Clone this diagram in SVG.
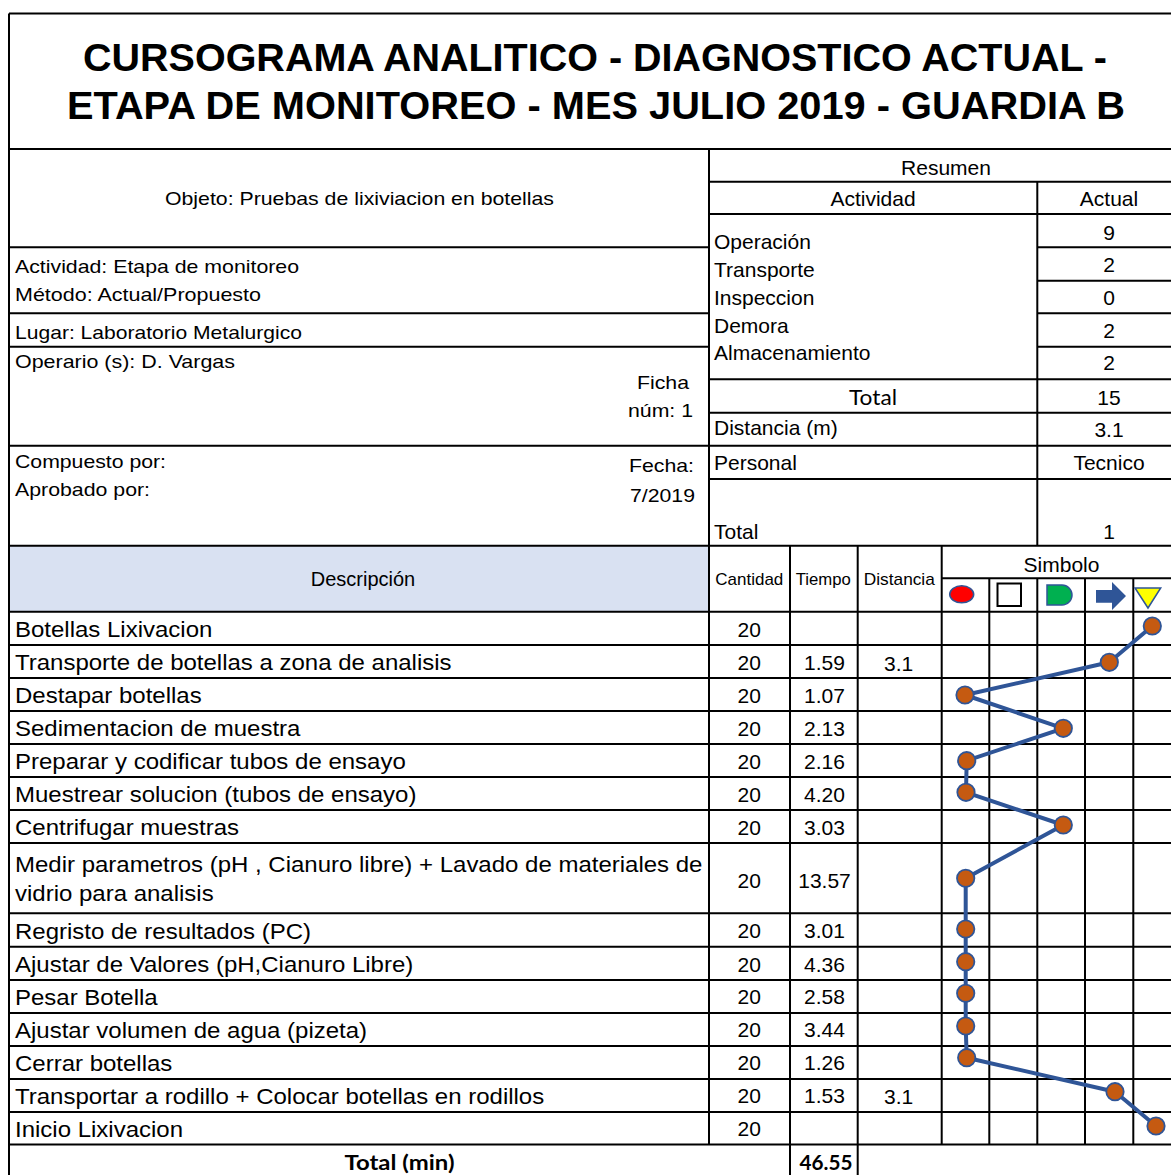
<svg xmlns="http://www.w3.org/2000/svg" width="1171" height="1175" viewBox="0 0 1171 1175">
<style>
.ln{stroke:#000;stroke-width:2;fill:none}
.t{font-family:"Liberation Sans",Arial,sans-serif;fill:#000}
.ti{font-family:"Liberation Sans",Arial,sans-serif;font-weight:bold;font-size:39.5px;text-anchor:middle;fill:#000}
.inf{font-size:18.5px}
.sm{font-size:21px}
.hd{font-size:17px}
.ds{font-size:22px}
.nm{font-size:21px;text-anchor:middle}
.c{text-anchor:middle}
.r{text-anchor:end}
.cal{font-family:Lato,"Liberation Sans",sans-serif;font-weight:bold;font-size:21px;text-anchor:middle;fill:#000}
.dot{fill:#C55A11;stroke:#2F5597;stroke-width:1.8}
.conn{fill:none;stroke:#2F5597;stroke-width:4;stroke-linejoin:round}
.sym{stroke:#2F5597;stroke-width:1.5}
</style>
<rect width="1171" height="1175" fill="#fff"/>
<rect x="9" y="545.7" width="700" height="66" fill="#D9E1F2"/>
<g id="grid">
<path class="ln" d="M9,13.5H1171M9,13.5V1175M9,149H1171M709,149V1144.5
M9,247.3H709M9,313.3H709M9,346.7H709M9,445.7H709M9,545.7H1171
M709,181.7H1171M709,214H1171M1037.3,247.3H1171M1037.3,280.7H1171M1037.3,313.3H1171M1037.3,346.7H1171
M709,379.3H1171M709,412.7H1171M709,445.7H1171M709,479H1171M1037.3,181.7V545.7
M790,545.7V1175M857.7,545.7V1175M941.7,545.7V1144.5M941.7,578.3H1171
M989.3,578.3V1144.5M1037.3,578.3V1144.5M1085,578.3V1144.5M1133.3,578.3V1144.5
M9,611.7H1171M9,645H1171M9,678H1171M9,711H1171M9,744H1171M9,777H1171M9,810H1171M9,843H1171
M9,913.3H1171M9,946.7H1171M9,980H1171M9,1013H1171M9,1046H1171M9,1079H1171M9,1112H1171M9,1144.5H1171"/>
</g>
<g id="title">
<text class="ti" x="595" y="70.5" textLength="1024" lengthAdjust="spacingAndGlyphs">CURSOGRAMA ANALITICO - DIAGNOSTICO ACTUAL -</text>
<text class="ti" x="596" y="119" textLength="1058" lengthAdjust="spacingAndGlyphs">ETAPA DE MONITOREO - MES JULIO 2019 - GUARDIA B</text>
</g>
<g id="info" class="t inf">
<text class="c" x="359.5" y="205" textLength="389" lengthAdjust="spacingAndGlyphs">Objeto: Pruebas de lixiviacion en botellas</text>
<text x="15" y="273" textLength="284" lengthAdjust="spacingAndGlyphs">Actividad: Etapa de monitoreo</text>
<text x="15" y="301" textLength="246" lengthAdjust="spacingAndGlyphs">Método: Actual/Propuesto</text>
<text x="15" y="338.5" textLength="287" lengthAdjust="spacingAndGlyphs">Lugar: Laboratorio Metalurgico</text>
<text x="15" y="368" textLength="220" lengthAdjust="spacingAndGlyphs">Operario (s): D. Vargas</text>
<text class="r" x="689" y="389" textLength="52" lengthAdjust="spacingAndGlyphs">Ficha</text>
<text class="r" x="693" y="417" textLength="65" lengthAdjust="spacingAndGlyphs">núm: 1</text>
<text x="15" y="468" textLength="151" lengthAdjust="spacingAndGlyphs">Compuesto por:</text>
<text x="15" y="496" textLength="135" lengthAdjust="spacingAndGlyphs">Aprobado por:</text>
<text class="r" x="694" y="472" textLength="65" lengthAdjust="spacingAndGlyphs">Fecha:</text>
<text class="r" x="695" y="501.5" textLength="65" lengthAdjust="spacingAndGlyphs">7/2019</text>
</g>
<g id="resumen" class="t sm">
<text class="c" x="946" y="175">Resumen</text>
<text class="c" x="873" y="206">Actividad</text>
<text class="c" x="1109" y="206">Actual</text>
<text x="714" y="248.5">Operación</text>
<text x="714" y="277">Transporte</text>
<text x="714" y="305">Inspeccion</text>
<text x="714" y="333">Demora</text>
<text x="714" y="360">Almacenamiento</text>
<text class="c" x="1109" y="239.5">9</text>
<text class="c" x="1109" y="272">2</text>
<text class="c" x="1109" y="305">0</text>
<text class="c" x="1109" y="337.5">2</text>
<text class="c" x="1109" y="370">2</text>
<text class="cal" x="873" y="404.5" textLength="48" lengthAdjust="spacingAndGlyphs" style="font-weight:normal">Total</text>
<text class="c" x="1109" y="404.5">15</text>
<text x="714" y="435">Distancia (m)</text>
<text class="c" x="1109" y="437">3.1</text>
<text x="714" y="470">Personal</text>
<text class="c" x="1109" y="470">Tecnico</text>
<text x="714" y="538.5">Total</text>
<text class="c" x="1109" y="538.5">1</text>
</g>
<g id="header" class="t">
<text class="c" x="363" y="586" style="font-size:20px">Descripción</text>
<text class="c hd" x="749.3" y="585" textLength="68" lengthAdjust="spacingAndGlyphs">Cantidad</text>
<text class="c hd" x="823.3" y="585" textLength="55" lengthAdjust="spacingAndGlyphs">Tiempo</text>
<text class="c hd" x="899.3" y="585" textLength="71" lengthAdjust="spacingAndGlyphs">Distancia</text>
<text class="c sm" x="1061.5" y="571.7">Simbolo</text>
</g>
<g id="symbol-legend">
<ellipse class="sym" cx="961.7" cy="594.3" rx="12" ry="8.5" fill="#FF0000"/>
<rect x="997.5" y="583.5" width="23.5" height="22.5" fill="#fff" stroke="#000" stroke-width="2"/>
<path class="sym" d="M1047,585H1062A10,10 0 0 1 1062,605H1047Z" fill="#00B050"/>
<path d="M1096,590H1112V582L1126,596L1112,610V602.7H1096Z" fill="#2F5597"/>
<path class="sym" d="M1135,588H1160.7L1148,608Z" fill="#FFFF00"/>
</g>
<g id="connectors">
<polyline class="conn" points="1152.3,626 1109.3,662.3 965,695 1063.3,728.3 966.7,760.7 966,792.3 1063.3,825 965.7,878.3 965.7,929 965.7,961.7 965.7,993.3 965.7,1026 966.7,1057.7 1115,1091.7 1156,1126"/>
</g>
<g id="row-1" class="t">
<text class="ds" transform="scale(1.0909 1)" x="13.75" y="637.5">Botellas Lixivacion</text>
<text class="nm" x="749.3" y="636.7">20</text>
<circle class="dot" cx="1152.3" cy="626" r="8.7"/>
</g>
<g id="row-2" class="t">
<text class="ds" transform="scale(1.0909 1)" x="13.75" y="670.5">Transporte de botellas a zona de analisis</text>
<text class="nm" x="749.3" y="670">20</text>
<text class="nm" x="824.5" y="670">1.59</text>
<text class="nm" x="898.7" y="671">3.1</text>
<circle class="dot" cx="1109.3" cy="662.3" r="8.7"/>
</g>
<g id="row-3" class="t">
<text class="ds" transform="scale(1.0909 1)" x="13.75" y="703.5">Destapar botellas</text>
<text class="nm" x="749.3" y="702.7">20</text>
<text class="nm" x="824.5" y="702.7">1.07</text>
<circle class="dot" cx="965" cy="695" r="8.7"/>
</g>
<g id="row-4" class="t">
<text class="ds" transform="scale(1.0909 1)" x="13.75" y="736.5">Sedimentacion de muestra</text>
<text class="nm" x="749.3" y="735.7">20</text>
<text class="nm" x="824.5" y="735.7">2.13</text>
<circle class="dot" cx="1063.3" cy="728.3" r="8.7"/>
</g>
<g id="row-5" class="t">
<text class="ds" transform="scale(1.0909 1)" x="13.75" y="769.5">Preparar y codificar tubos de ensayo</text>
<text class="nm" x="749.3" y="768.7">20</text>
<text class="nm" x="824.5" y="768.7">2.16</text>
<circle class="dot" cx="966.7" cy="760.7" r="8.7"/>
</g>
<g id="row-6" class="t">
<text class="ds" transform="scale(1.0909 1)" x="13.75" y="802.5">Muestrear solucion (tubos de ensayo)</text>
<text class="nm" x="749.3" y="801.7">20</text>
<text class="nm" x="824.5" y="801.7">4.20</text>
<circle class="dot" cx="966" cy="792.3" r="8.7"/>
</g>
<g id="row-7" class="t">
<text class="ds" transform="scale(1.0909 1)" x="13.75" y="835.5">Centrifugar muestras</text>
<text class="nm" x="749.3" y="834.7">20</text>
<text class="nm" x="824.5" y="834.7">3.03</text>
<circle class="dot" cx="1063.3" cy="825" r="8.7"/>
</g>
<g id="row-8" class="t">
<text class="ds" transform="scale(1.0909 1)" x="13.75" y="872">Medir parametros (pH , Cianuro libre) + Lavado de materiales de</text>
<text class="ds" transform="scale(1.0909 1)" x="13.75" y="901.5">vidrio para analisis</text>
<text class="nm" x="749.3" y="888.3">20</text>
<text class="nm" x="824.5" y="888.3">13.57</text>
<circle class="dot" cx="965.7" cy="878.3" r="8.7"/>
</g>
<g id="row-9" class="t">
<text class="ds" transform="scale(1.0909 1)" x="13.75" y="939">Regristo de resultados (PC)</text>
<text class="nm" x="749.3" y="938.3">20</text>
<text class="nm" x="824.5" y="938.3">3.01</text>
<circle class="dot" cx="965.7" cy="929" r="8.7"/>
</g>
<g id="row-10" class="t">
<text class="ds" transform="scale(1.0909 1)" x="13.75" y="972.5">Ajustar de Valores (pH,Cianuro Libre)</text>
<text class="nm" x="749.3" y="971.7">20</text>
<text class="nm" x="824.5" y="971.7">4.36</text>
<circle class="dot" cx="965.7" cy="961.7" r="8.7"/>
</g>
<g id="row-11" class="t">
<text class="ds" transform="scale(1.0909 1)" x="13.75" y="1005.5">Pesar Botella</text>
<text class="nm" x="749.3" y="1004.3">20</text>
<text class="nm" x="824.5" y="1004.3">2.58</text>
<circle class="dot" cx="965.7" cy="993.3" r="8.7"/>
</g>
<g id="row-12" class="t">
<text class="ds" transform="scale(1.0909 1)" x="13.75" y="1038.5">Ajustar volumen de agua (pizeta)</text>
<text class="nm" x="749.3" y="1037.3">20</text>
<text class="nm" x="824.5" y="1037.3">3.44</text>
<circle class="dot" cx="965.7" cy="1026" r="8.7"/>
</g>
<g id="row-13" class="t">
<text class="ds" transform="scale(1.0909 1)" x="13.75" y="1071.5">Cerrar botellas</text>
<text class="nm" x="749.3" y="1070">20</text>
<text class="nm" x="824.5" y="1070">1.26</text>
<circle class="dot" cx="966.7" cy="1057.7" r="8.7"/>
</g>
<g id="row-14" class="t">
<text class="ds" transform="scale(1.0909 1)" x="13.75" y="1104.5">Transportar a rodillo + Colocar botellas en rodillos</text>
<text class="nm" x="749.3" y="1103.3">20</text>
<text class="nm" x="824.5" y="1103.3">1.53</text>
<text class="nm" x="898.7" y="1104">3.1</text>
<circle class="dot" cx="1115" cy="1091.7" r="8.7"/>
</g>
<g id="row-15" class="t">
<text class="ds" transform="scale(1.0909 1)" x="13.75" y="1137">Inicio Lixivacion</text>
<text class="nm" x="749.3" y="1136">20</text>
<circle class="dot" cx="1156" cy="1126" r="8.7"/>
</g>
<g id="total-row">
<text class="cal" x="399.5" y="1170" textLength="110" lengthAdjust="spacingAndGlyphs">Total (min)</text>
<text class="cal" x="826" y="1170" textLength="53" lengthAdjust="spacingAndGlyphs">46.55</text>
</g>
</svg>
